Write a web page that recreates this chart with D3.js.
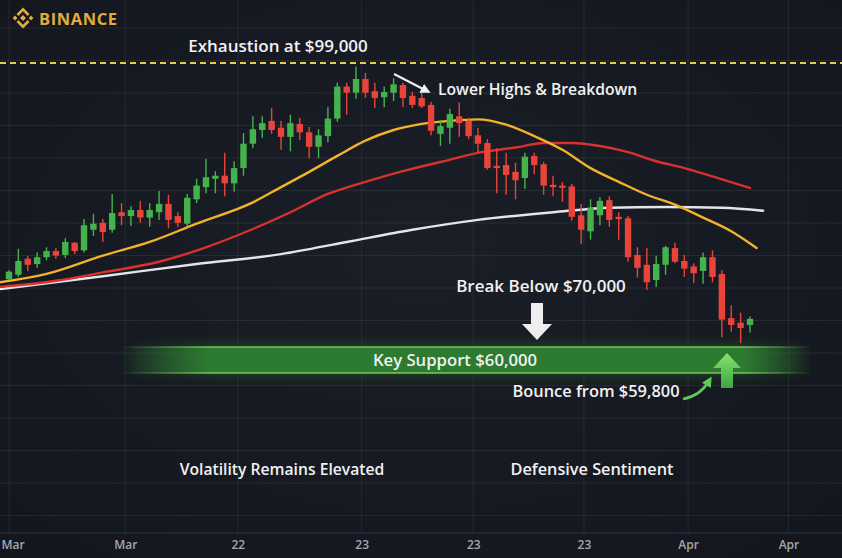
<!DOCTYPE html>
<html>
<head>
<meta charset="utf-8">
<script src="https://cdn.jsdelivr.net/npm/d3@7"></script>
<style>
  html, body { margin: 0; padding: 0; background: #161a22; }
  svg { display: block; }
  text { font-family: "Open Sans", "Noto Sans", sans-serif; }
</style>
</head>
<body>
<svg id="chart" width="842" height="558"></svg>
<script>
/* BTC daily candles (USD) */
const opens = [
  70600, 71200, 73300, 72600, 73500, 74300, 73800, 75400, 74400, 77100,
  78000, 77100, 79400, 78900, 79700, 78700, 79400, 80500, 78900, 77900,
  81100, 82700, 83800, 84200, 83200, 85200, 88400, 90200, 91400, 90500,
  89300, 91000, 89900, 88000, 89400, 91700, 95900, 95100, 96900, 95300,
  94500, 95100, 96100, 94700, 94400, 93500, 89700, 90500, 92000, 91400,
  89500, 88500, 85500, 85600, 84700, 83900, 86800, 85700, 83000, 82900,
  82800, 79000, 76900, 79000, 81000, 78800, 78600, 73800, 72500, 70500,
  72500, 74700, 73000, 72300, 71700, 73500, 71300, 65500, 64900, 64600
];
const highs = [
  71800, 74600, 73700, 74100, 74800, 74700, 76000, 75500, 78500, 79200,
  78500, 81800, 80600, 80200, 80900, 80600, 82200, 81700, 79400, 81800,
  83800, 86400, 84800, 87200, 86100, 89800, 92000, 92000, 93100, 91400,
  92200, 91800, 90600, 90300, 93200, 96400, 96400, 98500, 97700, 96400,
  95900, 97000, 96400, 95200, 95200, 93900, 91500, 93000, 93800, 91800,
  90500, 89000, 87800, 87200, 85900, 87200, 87200, 86000, 84200, 83400,
  83100, 80500, 81100, 81400, 81500, 79400, 78900, 74800, 74700, 73700,
  75000, 75400, 73800, 72700, 74100, 74400, 71800, 67200, 66200, 65700
];
const lows = [
  70500, 70900, 71700, 72100, 73100, 73300, 73400, 73900, 74100, 76300,
  75500, 76700, 77700, 77600, 78000, 77500, 78400, 77300, 77500, 77600,
  80600, 81900, 81900, 81500, 82100, 84200, 87800, 89200, 89700, 87600,
  87400, 88900, 86500, 86500, 88600, 91300, 92200, 94300, 94400, 93100,
  93200, 94000, 93200, 93100, 93100, 89500, 88100, 88400, 89300, 89000,
  87200, 85000, 81900, 81700, 81100, 82500, 84400, 81700, 81500, 80800,
  78300, 75200, 75800, 77700, 77500, 75800, 72900, 70800, 69200, 69600,
  71200, 72700, 70900, 70100, 70000, 70200, 63000, 63700, 62200, 63600
];
const closes = [
  71600, 73000, 72500, 73500, 74300, 73700, 75500, 74300, 77700, 77900,
  76800, 79300, 78900, 79700, 78700, 79700, 80500, 78400, 78000, 81300,
  82900, 84000, 84200, 83200, 85200, 88400, 90300, 91100, 90200, 89300,
  91100, 89900, 88000, 89500, 91700, 95900, 95100, 96900, 95100, 94400,
  95200, 96200, 94400, 93500, 93300, 90100, 90700, 92300, 91100, 89400,
  88400, 85200, 85200, 84300, 83600, 86700, 85600, 82900, 82700, 82600,
  78800, 77100, 80000, 80900, 78400, 78500, 73500, 72100, 70200, 72600,
  74800, 72900, 72000, 71400, 73500, 70900, 65300, 64600, 64200, 65400
];

/* moving averages: [candle index, price] */
const maFast = [[-1, 70200], [4, 71300], [10, 73700], [15, 75500], [20, 77900], [26, 80700],
  [29, 82700], [32, 84700], [35, 86800], [38, 88800], [41, 90200], [44, 91000], [47, 91400],
  [50, 91600], [53, 90900], [56, 89400], [59, 87600], [62, 85200], [65, 83400], [68, 81700],
  [71, 80400], [74, 78700], [77, 76900], [79.7, 74700]];
const maMid = [[-1, 69600], [5, 70400], [10, 71500], [16, 72900], [21, 74800], [26, 77200],
  [30, 79400], [34, 81800], [38, 83400], [42, 84800], [46, 86000], [50, 87200], [54, 87900],
  [57, 88500], [60, 88500], [63, 88100], [66, 87300], [69, 86100], [72, 85200], [75, 84100],
  [79, 82600]];
const maSlow = [[-1, 69300], [10, 71000], [20, 72600], [29, 73900], [36, 75500], [43, 77100],
  [50, 78400], [58, 79400], [64, 80000], [70, 80100], [76, 80000], [80.4, 79600]];

/* x axis ticks (candle index) */
const tickPos    = [0, 12.4, 24.4, 37.6, 49.5, 61.3, 72.4, 83.1];
const tickLabels = ['Mar', 'Mar', '22', '23', '23', '23', 'Apr', 'Apr'];

const EXHAUSTION = 99000;
const SUPPORT    = 60000;

const W = 842, H = 558;
const svg = d3.select('#chart');
const defs = svg.append('defs');

const x = d3.scaleLinear().domain([0, 79]).range([9, 750]);
const y = d3.scaleLinear().domain([SUPPORT, EXHAUSTION]).range([360, 63]);

/* background */
const bg = defs.append('radialGradient').attr('id', 'bg')
  .attr('cx', '50%').attr('cy', '45%').attr('r', '75%');
bg.append('stop').attr('offset', '0%').attr('stop-color', '#1a1e27');
bg.append('stop').attr('offset', '100%').attr('stop-color', '#13161d');
svg.append('rect').attr('width', W).attr('height', H).attr('fill', 'url(#bg)');

/* grid */
const grid = svg.append('g').attr('stroke', 'rgba(255,255,255,0.07)').attr('stroke-width', 1);
d3.range(28, 530, 32.5).forEach(gy => {
  grid.append('line').attr('x1', 0).attr('x2', W).attr('y1', gy).attr('y2', gy);
});
tickPos.forEach(t => {
  grid.append('line').attr('x1', x(t)).attr('x2', x(t)).attr('y1', 0).attr('y2', 533);
});
svg.append('line').attr('x1', 0).attr('x2', W).attr('y1', 533).attr('y2', 533)
  .attr('stroke', 'rgba(255,255,255,0.12)');

/* x axis */
const xAxis = d3.axisBottom(x).tickValues(tickPos)
  .tickFormat((d, i) => tickLabels[i]).tickSize(0).tickPadding(0);
const ax = svg.append('g').attr('transform', 'translate(0,540)').call(xAxis);
ax.select('.domain').remove();
ax.selectAll('text')
  .attr('fill', '#a3a8b2').attr('font-size', 12).attr('font-weight', 600)
  .style('font-family', '"Liberation Sans Narrow", "Open Sans", sans-serif');
// first label sits against the left edge
ax.select('.tick text').attr('text-anchor', 'start').attr('x', -8);

/* exhaustion line */
svg.append('line').attr('x1', 0).attr('x2', W).attr('y1', y(EXHAUSTION)).attr('y2', y(EXHAUSTION))
  .attr('stroke', '#e8cf4a').attr('stroke-width', 2).attr('stroke-dasharray', '6,4');

/* support band */
const fade = (id, color) => {
  const g = defs.append('linearGradient').attr('id', id)
    .attr('gradientUnits', 'userSpaceOnUse').attr('x1', 120).attr('x2', 812).attr('y1', 0).attr('y2', 0);
  [[0, 0], [0.13, 1], [0.9, 1], [1, 0]].forEach(([o, a]) =>
    g.append('stop').attr('offset', o).attr('stop-color', color).attr('stop-opacity', a));
};
fade('bandFill', '#2d7a31');
fade('bandEdge', '#74c956');
const glow = defs.append('filter').attr('id', 'glow').attr('x', '-10%').attr('y', '-100%')
  .attr('width', '120%').attr('height', '300%');
glow.append('feGaussianBlur').attr('stdDeviation', 6);

const bandTop = y(SUPPORT) - 13, bandH = 26;
svg.append('rect').attr('x', 120).attr('y', bandTop - 4).attr('width', 692).attr('height', bandH + 8)
  .attr('fill', 'url(#bandFill)').attr('opacity', 0.35).attr('filter', 'url(#glow)');
svg.append('rect').attr('x', 120).attr('y', bandTop).attr('width', 692).attr('height', bandH)
  .attr('fill', 'url(#bandFill)');
[bandTop, bandTop + bandH].forEach(ly => {
  svg.append('line').attr('x1', 120).attr('x2', 812).attr('y1', ly).attr('y2', ly)
    .attr('stroke', 'url(#bandEdge)').attr('stroke-width', 1.6);
});

/* moving averages */
const line = d3.line().x(d => x(d[0])).y(d => y(d[1])).curve(d3.curveMonotoneX);
[[maSlow, '#e4e4ea'], [maMid, '#d8322c'], [maFast, '#f2b22a']].forEach(([data, color]) => {
  svg.append('path').datum(data).attr('d', line).attr('fill', 'none')
    .attr('stroke', color).attr('stroke-width', 2.4).attr('stroke-linecap', 'round');
});

/* candles */
const candles = d3.range(opens.length).map(i => ({
  i, o: opens[i], h: highs[i], l: lows[i], c: closes[i]
}));
const col = d => d.c >= d.o ? '#45b34d' : '#e8443a';
const cg = svg.append('g').selectAll('g').data(candles).join('g');
cg.append('line')
  .attr('x1', d => x(d.i)).attr('x2', d => x(d.i))
  .attr('y1', d => y(d.h)).attr('y2', d => y(d.l))
  .attr('stroke', col).attr('stroke-width', 1.4);
cg.append('rect')
  .attr('x', d => x(d.i) - 3.2).attr('width', 6.4)
  .attr('y', d => y(Math.max(d.o, d.c)))
  .attr('height', d => Math.max(2, Math.abs(y(d.o) - y(d.c))))
  .attr('fill', col);

/* logo */
const logo = svg.append('g').attr('transform', 'translate(23,18)').attr('fill', '#e0ac3c');
const diamond = (cx, cy, r) => [[cx, cy - r], [cx + r, cy], [cx, cy + r], [cx - r, cy]];
logo.append('polygon').attr('points', diamond(0, 0, 3).join(' '));
logo.append('polygon').attr('points', diamond(-8, 0, 2.4).join(' '));
logo.append('polygon').attr('points', diamond(8, 0, 2.4).join(' '));
logo.append('polygon').attr('points', '-6.5,-4 0,-10.5 6.5,-4 4.6,-2.1 0,-6.7 -4.6,-2.1');
logo.append('polygon').attr('points', '-6.5,4 0,10.5 6.5,4 4.6,2.1 0,6.7 -4.6,2.1');
svg.append('text').attr('x', 39).attr('y', 24.5).text('BINANCE')
  .attr('fill', '#e0ac3c').attr('font-size', 16.5).attr('font-weight', 700).attr('letter-spacing', 0.6);

/* annotations */
const label = (tx, ty, str, size, anchor) => svg.append('text')
  .attr('x', tx).attr('y', ty).attr('text-anchor', anchor || 'start')
  .attr('fill', '#f1f1f1').attr('font-size', size).attr('font-weight', 600).text(str);

label(278, y(EXHAUSTION) - 11, 'Exhaustion at $99,000', 17, 'middle');
label(438, 95, 'Lower Highs & Breakdown', 15.7);
label(541, 292, 'Break Below $70,000', 17, 'middle');
label(455, y(SUPPORT) + 6, 'Key Support $60,000', 16.7, 'middle');
label(596, 397, 'Bounce from $59,800', 16.4, 'middle');
label(282, 475, 'Volatility Remains Elevated', 15.7, 'middle');
label(592, 475, 'Defensive Sentiment', 16.3, 'middle');

// pointer to the lower highs
const mk = defs.append('marker').attr('id', 'head').attr('viewBox', '0 0 10 10')
  .attr('refX', 6).attr('refY', 5).attr('markerWidth', 5).attr('markerHeight', 5).attr('orient', 'auto');
mk.append('path').attr('d', 'M0,0 L10,5 L0,10 Z').attr('fill', '#f1f1f1');
svg.append('line').attr('x1', 394).attr('y1', 74).attr('x2', 427).attr('y2', 91)
  .attr('stroke', '#f1f1f1').attr('stroke-width', 2).attr('marker-end', 'url(#head)');

// down arrow
svg.append('polygon').attr('fill', '#eeeeee')
  .attr('points', '531,303 543,303 543,324 552,324 537,340 522,324 531,324');

// up arrow
const upG = defs.append('linearGradient').attr('id', 'upG').attr('x1', 0).attr('x2', 0).attr('y1', 0).attr('y2', 1);
upG.append('stop').attr('offset', 0).attr('stop-color', '#86e26a');
upG.append('stop').attr('offset', 1).attr('stop-color', '#3ea645');
svg.append('polygon').attr('fill', 'url(#upG)')
  .attr('points', '727,353 741,368 733,368 733,388 721,388 721,368 713,368');

// curved bounce arrow
const mkG = defs.append('marker').attr('id', 'headG').attr('viewBox', '0 0 10 10')
  .attr('refX', 5).attr('refY', 5).attr('markerWidth', 4).attr('markerHeight', 4).attr('orient', 'auto');
mkG.append('path').attr('d', 'M0,0 L10,5 L0,10 Z').attr('fill', '#5ccc55');
svg.append('path').attr('d', 'M683,399 Q700,396 709,381').attr('fill', 'none')
  .attr('stroke', '#5ccc55').attr('stroke-width', 2.6).attr('marker-end', 'url(#headG)');
</script>
</body>
</html>
